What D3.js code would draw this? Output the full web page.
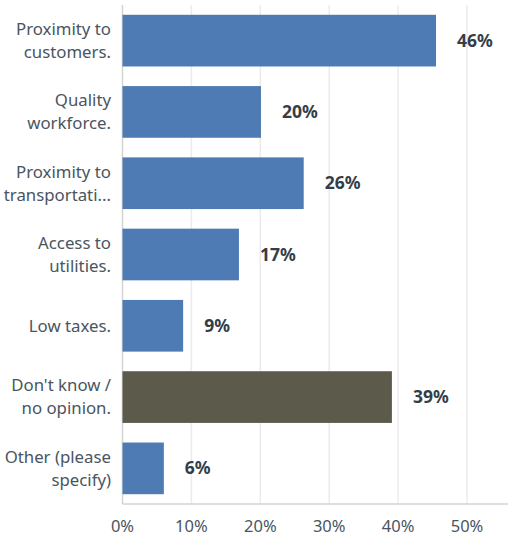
<!DOCTYPE html>
<html><head><meta charset="utf-8">
<script src="https://cdn.jsdelivr.net/npm/d3@7"></script>
<style>body{margin:0;background:#fff}svg{display:block}</style>
</head><body><svg id="c" width="508" height="538"></svg>
<script>
const categories = [
  ["Proximity to","customers."],
  ["Quality","workforce."],
  ["Proximity to","transportati..."],
  ["Access to","utilities."],
  ["Low taxes."],
  ["Don't know /","no opinion."],
  ["Other (please","specify)"]
];
const values = [45.5, 20.1, 26.3, 16.9, 8.8, 39.1, 6.0];
const valueLabels = ["46%","20%","26%","17%","9%","39%","6%"];
const barColors = ["#4f7bb4","#4f7bb4","#4f7bb4","#4f7bb4","#4f7bb4","#5b5a4b","#4f7bb4"];
const ticks = [0,10,20,30,40,50];
const tickLabels = ["0%","10%","20%","30%","40%","50%"];

const svg = d3.select("#c");
const font = "'Noto Sans', sans-serif";
const x = d3.scaleLinear().domain([0,50]).range([122.5,467]);
const y = d3.scaleBand().domain(d3.range(categories.length)).range([5,504]).paddingInner(0.275).paddingOuter(0.1375);

// gridlines
svg.append("g").selectAll("line").data(ticks.slice(1)).join("line")
  .attr("x1",d=>x(d)).attr("x2",d=>x(d)).attr("y1",5).attr("y2",504)
  .attr("stroke","#ebebeb").attr("stroke-width",1.5);

// axis lines
svg.append("line").attr("x1",x(0)).attr("x2",x(0)).attr("y1",5).attr("y2",504).attr("stroke","#d3d3d3").attr("stroke-width",1.5);
svg.append("line").attr("x1",x(0)).attr("x2",508).attr("y1",504).attr("y2",504).attr("stroke","#d3d3d3").attr("stroke-width",1.5);

// bars
svg.append("g").selectAll("rect").data(values).join("rect")
  .attr("x",x(0)).attr("y",(d,i)=>y(i)).attr("width",d=>x(d)-x(0)).attr("height",y.bandwidth())
  .attr("fill",(d,i)=>barColors[i]);

// value labels
svg.append("g").selectAll("text").data(values).join("text")
  .attr("x",d=>x(d)+21).attr("y",(d,i)=>y(i)+y.bandwidth()/2).attr("dy","0.35em")
  .attr("font-family",font).attr("font-size",17.5).attr("font-weight","bold").attr("fill","#333e48")
  .text((d,i)=>valueLabels[i]);

// category labels
const cg = svg.append("g");
categories.forEach((lines,i)=>{
  const cy = y(i)+y.bandwidth()/2;
  const lh = 23;
  const t = cg.append("text").attr("text-anchor","end").attr("font-family",font).attr("font-size",16.8).attr("fill","#4a5560");
  lines.forEach((ln,j)=>{
    t.append("tspan").attr("x",111).attr("y",cy + (j-(lines.length-1)/2)*lh).attr("dy","0.35em").text(ln);
  });
});

// x tick labels
svg.append("g").selectAll("text").data(ticks).join("text")
  .attr("x",d=>x(d)).attr("y",532).attr("text-anchor","middle")
  .attr("font-family",font).attr("font-size",16.5).attr("fill","#4a5560")
  .text((d,i)=>tickLabels[i]);
</script></body></html>
